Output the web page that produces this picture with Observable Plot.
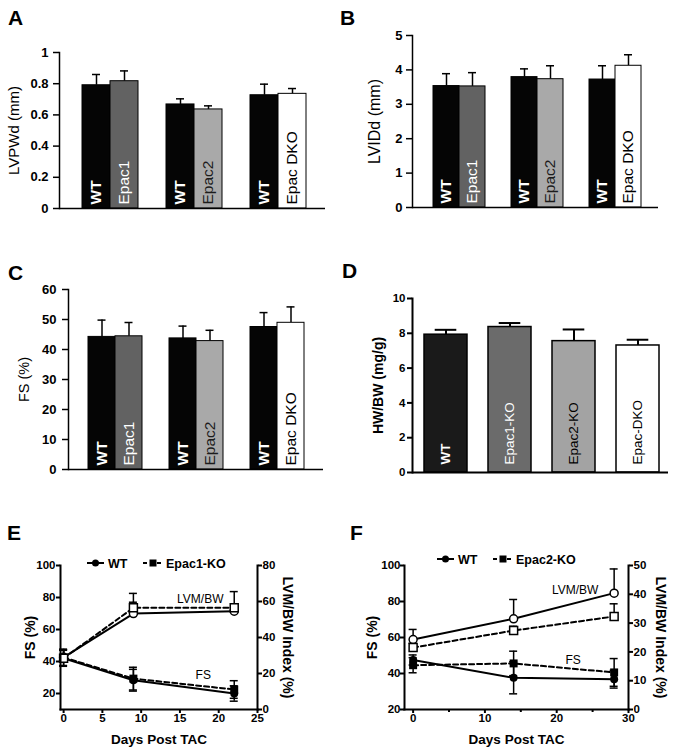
<!DOCTYPE html>
<html>
<head>
<meta charset="utf-8">
<script src="https://cdn.jsdelivr.net/npm/d3@7"></script>
<script src="https://cdn.jsdelivr.net/npm/@observablehq/plot@0.6"></script>
<style>
  html, body { margin: 0; padding: 0; background: #fff; }
  #fig { position: relative; width: 675px; height: 753px; overflow: hidden; background: #fff;
         font-family: "Liberation Sans", Arial, Helvetica, sans-serif; }
</style>
</head>
<body>
<div id="fig"></div>
<script>
// ---------------- DATA ----------------
// Panels A–C: paired WT / knockout bars
const abcGenotype = ["WT", "Epac1", "WT", "Epac2", "WT", "Epac DKO"];
const abcBarId    = ["WT-1", "Epac1", "WT-2", "Epac2", "WT-3", "Epac DKO"];
const abcSlots    = ["WT-1", "Epac1", "gap-1", "WT-2", "Epac2", "gap-2", "WT-3", "Epac DKO"];

const lvpwdMean = [0.79, 0.816, 0.667, 0.635, 0.726, 0.735];
const lvpwdSem  = [0.069, 0.066, 0.036, 0.023, 0.071, 0.034];

const lvidMean  = [3.53, 3.52, 3.79, 3.73, 3.72, 4.12];
const lvidSem   = [0.36, 0.40, 0.24, 0.39, 0.40, 0.32];

const fsMean    = [44.2, 44.4, 43.7, 42.8, 47.5, 48.9];
const fsSem     = [5.6, 4.6, 4.1, 3.6, 4.8, 5.3];

const abcTicksA = [0, 0.2, 0.4, 0.6, 0.8, 1];
const abcTicksB = [0, 1, 2, 3, 4, 5];
const abcTicksC = [0, 10, 20, 30, 40, 50, 60];

// Panel D
const dGenotype = ["WT", "Epac1-KO", "Epac2-KO", "Epac-DKO"];
const hwbwMean  = [7.92, 8.36, 7.55, 7.30];
const hwbwSem   = [0.28, 0.23, 0.67, 0.33];
const dTicks    = [0, 2, 4, 6, 8, 10];

// Panel E (Epac1-KO time course)
const eDays      = [0, 9, 22];
const eFsWT      = [42.0, 28.3, 20.0];
const eFsWTSem   = [5.0, 6.8, 4.8];
const eFsKO      = [42.5, 29.3, 22.5];
const eFsKOSem   = [5.0, 7.1, 5.5];
const eLvmWT     = [29.0, 53.3, 54.6];
const eLvmWTSem  = [4.5, 6.3, 2.0];
const eLvmKO     = [28.5, 56.5, 56.5];
const eLvmKOSem  = [4.5, 8.0, 9.0];
const eTicksX    = [0, 5, 10, 15, 20, 25];
const eTicksLeft = [20, 40, 60, 80, 100];
const eTicksRight= [0, 20, 40, 60, 80];

// Panel F (Epac2-KO time course)
const fDays      = [0, 14, 28];
const fFsWT      = [47.5, 37.6, 36.8];
const fFsWTSem   = [2.8, 8.9, 4.9];
const fFsKO      = [44.6, 45.6, 40.6];
const fFsKOSem   = [4.2, 6.8, 7.7];
const fLvmWT     = [24.3, 31.5, 40.4];
const fLvmWTSem  = [3.5, 6.7, 8.4];
const fLvmKO     = [21.5, 27.4, 32.3];
const fLvmKOSem  = [1.5, 1.5, 4.4];
const fTicksX    = [0, 10, 20, 30];
const fMinorX    = [5, 15, 25];
const fTicksLeft = [20, 40, 60, 80, 100];
const fTicksRight= [0, 10, 20, 30, 40, 50];

// ---------------- DRAWING ----------------
const FONT = '"Liberation Sans", Arial, Helvetica, sans-serif';
const fig = document.getElementById("fig");
function place(node, left, top) {
  node.style.position = "absolute";
  node.style.left = left + "px";
  node.style.top = top + "px";
  fig.appendChild(node);
}
const blank = () => "";

function barPanel(c) {
  const rows = c.ids.map((id, i) => ({ id, geno: c.geno[i], mean: c.mean[i], sem: c.sem[i] }));
  const labelMarks = c.fill.domain.map(g =>
    Plot.text(rows, {
      filter: d => d.geno === g, x: "id", y: 0, text: "geno",
      rotate: -90, textAnchor: "start", lineAnchor: "middle", dy: -c.labelLift,
      fill: c.ink[g], fontWeight: c.weight[g], fontSize: c.labelSize
    })
  );
  return Plot.plot({
    width: c.width, height: c.height,
    marginLeft: c.m[0], marginRight: c.m[1], marginTop: c.m[2], marginBottom: c.m[3],
    x: { type: "band", domain: c.domain, range: c.range, paddingInner: c.paddingInner, paddingOuter: 0, axis: null },
    y: { domain: c.yDomain },
    color: { type: "ordinal", domain: c.fill.domain, range: c.fill.range },
    style: { fontFamily: FONT, background: "transparent", color: "#000", overflow: "visible" },
    marks: [
      Plot.ruleX(rows, { x: "id", y1: "mean", y2: d => d.mean + d.sem, stroke: "#000", strokeWidth: c.errWidth }),
      Plot.tickY(rows, { x: "id", y: d => d.mean + d.sem, stroke: "#000", strokeWidth: c.errWidth,
                         insetLeft: c.capInset, insetRight: c.capInset }),
      Plot.barY(rows, { x: "id", y: "mean", fill: "geno", stroke: "#000", strokeWidth: c.barStroke, inset: 0 }),
      ...labelMarks,
      Plot.ruleY([0], { stroke: "#000", strokeWidth: c.axisWidth }),
      Plot.frame({ anchor: "left", stroke: "#000", strokeWidth: c.axisWidth }),
      Plot.axisY({ ticks: c.yTicks, tickFormat: blank, tickSize: c.tickSize, label: null, stroke: "#000", strokeWidth: c.axisWidth }),
      Plot.text(c.yTicks, { y: d => d, text: d3.format("~g"), frameAnchor: "left", textAnchor: "end", lineAnchor: "middle",
                            dx: c.tickDx, fontSize: c.tickFont, fontWeight: "bold", fill: "#000" }),
      Plot.text([c.yLabel], { text: d => d, frameAnchor: "left", textAnchor: "middle", lineAnchor: "middle",
                              rotate: -90, dx: c.yLabelDx,
                              fontSize: c.yLabelSize, fontWeight: c.yLabelWeight, fill: "#000" })
    ]
  });
}

const abcFill = { domain: ["WT", "Epac1", "Epac2", "Epac DKO"], range: ["#050505", "#626262", "#a9a9a9", "#ffffff"] };
const abcInk = { "WT": "#ffffff", "Epac1": "#ffffff", "Epac2": "#1c1c1c", "Epac DKO": "#000000" };
const abcWeight = { "WT": "bold", "Epac1": "normal", "Epac2": "normal", "Epac DKO": "normal" };
const abcCommon = {
  ids: abcBarId, geno: abcGenotype, domain: abcSlots, paddingInner: 0,
  fill: abcFill, ink: abcInk, weight: abcWeight,
  labelLift: 4, labelSize: 15.5, errWidth: 1.5, barStroke: 1, axisWidth: 1.5,
  tickSize: 6, tickDx: -11, tickFont: 13, yLabelWeight: "normal"
};

place(barPanel({ ...abcCommon, width: 335, height: 180, m: [59, 10, 12, 12], range: [82, 306],
  mean: lvpwdMean, sem: lvpwdSem, yDomain: [0, 1], yTicks: abcTicksA, capInset: 10,
  yLabel: "LVPWd (mm)", yLabelDx: -45, yLabelSize: 15 }), 0, 40);

place(barPanel({ ...abcCommon, width: 340, height: 200, m: [77, 17, 15, 13], range: [98, 306],
  mean: lvidMean, sem: lvidSem, yDomain: [0, 5], yTicks: abcTicksB, capInset: 9,
  yLabel: "LVIDd (mm)", yLabelDx: -38, yLabelSize: 16, tickDx: -10 }), 335, 20);

place(barPanel({ ...abcCommon, width: 335, height: 210, m: [68, 12, 19, 11], range: [87, 304],
  mean: fsMean, sem: fsSem, yDomain: [0, 60], yTicks: abcTicksC, capInset: 9.5,
  yLabel: "FS (%)", yLabelDx: -44, yLabelSize: 14.5, tickDx: -12 }), 0, 270);

place(barPanel({
  ids: dGenotype, geno: dGenotype, domain: dGenotype, paddingInner: 0.33,
  fill: { domain: dGenotype, range: ["#1a1a1a", "#6b6b6b", "#a3a3a3", "#ffffff"] },
  ink: { "WT": "#ffffff", "Epac1-KO": "#ffffff", "Epac2-KO": "#000000", "Epac-DKO": "#000000" },
  weight: { "WT": "bold", "Epac1-KO": "normal", "Epac2-KO": "normal", "Epac-DKO": "normal" },
  labelLift: 8, labelSize: 13.5, errWidth: 2, barStroke: 1.5, axisWidth: 2,
  tickSize: 5, tickDx: -7, tickFont: 11.5, capInset: 10.7,
  width: 340, height: 200, m: [77, 7, 18, 8], range: [87, 325],
  mean: hwbwMean, sem: hwbwSem, yDomain: [0, 10], yTicks: dTicks,
  yLabel: "HW/BW (mg/g)", yLabelDx: -34, yLabelSize: 14, yLabelWeight: "bold"
}), 335, 280);

function linePanel(c) {
  const toLeft = d3.scaleLinear().domain(c.rightDomain).range(c.yDomain);
  const rows = [];
  const add = (series, measure, vals, sems) => c.days.forEach((day, i) => {
    if (measure === "FS") rows.push({ day, series, measure, y: vals[i], lo: vals[i] - sems[i], hi: vals[i] + sems[i] });
    else rows.push({ day, series, measure, y: toLeft(vals[i]), lo: toLeft(vals[i]), hi: toLeft(vals[i] + sems[i]) });
  });
  add("WT", "FS", c.fsWT, c.fsWTSem);
  add("KO", "FS", c.fsKO, c.fsKOSem);
  add("WT", "LVM", c.lvmWT, c.lvmWTSem);
  add("KO", "LVM", c.lvmKO, c.lvmKOSem);
  const last = c.days[c.days.length - 1];
  const is = (s, m) => d => d.series === s && d.measure === m;
  const axisOpts = { tickSize: 4, tickFormat: blank, label: null, stroke: "#000", strokeWidth: 2 };
  const tickText = { fontSize: 11.5, fontWeight: "bold", fill: "#000" };
  const marks = [
    Plot.line(rows, { filter: d => d.series === "WT", x: "day", y: "y", z: "measure", stroke: "#000", strokeWidth: 2 }),
    Plot.line(rows, { filter: d => d.series === "KO", x: "day", y: "y", z: "measure", stroke: "#000", strokeWidth: 2, strokeDasharray: "5,3" }),
    Plot.ruleX(rows, { x: "day", y1: "lo", y2: "hi", stroke: "#000", strokeWidth: 1.5 }),
    Plot.ruleY(rows, { x1: "day", x2: "day", y: "hi", insetLeft: -4, insetRight: -4, stroke: "#000", strokeWidth: 1.5 }),
    Plot.ruleY(rows, { filter: d => d.lo !== d.y, x1: "day", x2: "day", y: "lo", insetLeft: -4, insetRight: -4, stroke: "#000", strokeWidth: 1.5 }),
    Plot.dot(rows, { filter: is("WT", "FS"), x: "day", y: "y", symbol: "circle", r: 4, fill: "#000" }),
    Plot.dot(rows, { filter: is("KO", "FS"), x: "day", y: "y", symbol: "square", r: 4.5, fill: "#000" }),
    Plot.dot(rows, { filter: is("WT", "LVM"), x: "day", y: "y", symbol: "circle", r: 4, fill: "#fff", stroke: "#000", strokeWidth: 1.5 }),
    Plot.dot(rows, { filter: is("KO", "LVM"), x: "day", y: "y", symbol: "square", r: 4.5, fill: "#fff", stroke: "#000", strokeWidth: 1.5 }),
    Plot.text(rows, { filter: d => d.day === last && is(c.lvmTag[0], "LVM")(d), x: "day", y: "y", text: () => "LVM/BW",
                      dx: c.lvmTag[1], dy: c.lvmTag[2], fontSize: 12, fill: "#000" }),
    Plot.text(rows, { filter: d => d.day === last && is(c.fsTag[0], "FS")(d), x: "day", y: "y", text: () => "FS",
                      dx: c.fsTag[1], dy: c.fsTag[2], fontSize: 12, fill: "#000" }),
    Plot.frame({ anchor: "left", stroke: "#000", strokeWidth: 2 }),
    Plot.frame({ anchor: "right", stroke: "#000", strokeWidth: 2 }),
    Plot.frame({ anchor: "bottom", stroke: "#000", strokeWidth: 2 }),
    Plot.axisY({ ...axisOpts, anchor: "left", ticks: c.leftTicks }),
    Plot.axisY({ ...axisOpts, anchor: "right", ticks: c.rightTicks.map(toLeft) }),
    Plot.axisX({ ...axisOpts, ticks: c.xTicks }),
    Plot.text(c.leftTicks, { ...tickText, y: d => d, text: d => String(d), frameAnchor: "left", textAnchor: "end", lineAnchor: "middle", dx: c.leftTickDx }),
    Plot.text(c.rightTicks, { ...tickText, y: d => toLeft(d), text: d => String(d), frameAnchor: "right", textAnchor: "start", lineAnchor: "middle", dx: 5 }),
    Plot.text(c.xTicks, { ...tickText, x: d => d, text: d => String(d), frameAnchor: "bottom", textAnchor: "middle", lineAnchor: "top", dy: 4 }),
    Plot.text(["FS (%)"], { text: d => d, frameAnchor: "left", textAnchor: "middle", lineAnchor: "middle",
                            rotate: -90, dx: c.leftLabelDx, fontSize: 14, fontWeight: "bold", fill: "#000" }),
    Plot.text(["LVM/BW Index (%)"], { text: d => d, frameAnchor: "right", textAnchor: "middle", lineAnchor: "middle",
                                      rotate: 90, dx: c.rightLabelDx, fontSize: 14, fontWeight: "bold", fill: "#000" }),
    Plot.text(["Days Post TAC"], { text: d => d, frameAnchor: "bottom", textAnchor: "middle", lineAnchor: "middle",
                                   dy: 30, fontSize: 13.5, fontWeight: "bold", fill: "#000" })
  ];
  if (c.minorX) marks.push(Plot.axisX({ ...axisOpts, ticks: c.minorX, tickSize: 3 }));
  return Plot.plot({
    width: c.width, height: c.height,
    marginLeft: c.m[0], marginRight: c.m[1], marginTop: c.m[2], marginBottom: c.m[3],
    x: { domain: c.xDomain },
    y: { domain: c.yDomain },
    style: { fontFamily: FONT, background: "transparent", color: "#000", overflow: "visible" },
    marks
  });
}

place(linePanel({
  width: 335, height: 213, m: [60, 78, 25, 44],
  days: eDays, xDomain: [-0.4, 25], yDomain: [10, 100], rightDomain: [0, 80],
  fsWT: eFsWT, fsWTSem: eFsWTSem, fsKO: eFsKO, fsKOSem: eFsKOSem,
  lvmWT: eLvmWT, lvmWTSem: eLvmWTSem, lvmKO: eLvmKO, lvmKOSem: eLvmKOSem,
  leftTicks: eTicksLeft, rightTicks: eTicksRight, xTicks: eTicksX,
  lvmTag: ["KO", -34, -9], fsTag: ["KO", -31, -14],
  leftLabelDx: -30, rightLabelDx: 30, leftTickDx: -5
}), 0, 540);

place(linePanel({
  width: 340, height: 213, m: [69, 47, 25, 44],
  days: fDays, xDomain: [-1.2, 30], yDomain: [20, 100], rightDomain: [0, 50],
  fsWT: fFsWT, fsWTSem: fFsWTSem, fsKO: fFsKO, fsKOSem: fFsKOSem,
  lvmWT: fLvmWT, lvmWTSem: fLvmWTSem, lvmKO: fLvmKO, lvmKOSem: fLvmKOSem,
  leftTicks: fTicksLeft, rightTicks: fTicksRight, xTicks: fTicksX, minorX: fMinorX,
  lvmTag: ["WT", -39, -3], fsTag: ["KO", -41, -12],
  leftLabelDx: -32, rightLabelDx: 32, leftTickDx: -4
}), 335, 540);

// ---------------- PANEL LETTERS & LEGENDS ----------------
const NS = "http://www.w3.org/2000/svg";
const overlay = document.createElementNS(NS, "svg");
overlay.setAttribute("width", 675);
overlay.setAttribute("height", 753);
overlay.style.pointerEvents = "none";
overlay.style.fontFamily = FONT;
function el(tag, attrs, text) {
  const e = document.createElementNS(NS, tag);
  for (const k in attrs) e.setAttribute(k, attrs[k]);
  if (text != null) e.textContent = text;
  overlay.appendChild(e);
  return e;
}
const letters = [["A", 8, 25], ["B", 340, 25], ["C", 8, 280], ["D", 342, 278], ["E", 7, 540], ["F", 350, 540]];
letters.forEach(([t, x, y]) => el("text", { x, y, "font-size": 21, "font-weight": "bold", fill: "#000" }, t));

function legend(y, x0, koName) {
  el("line", { x1: x0, x2: x0 + 17, y1: y, y2: y, stroke: "#000", "stroke-width": 2 });
  el("circle", { cx: x0 + 8.5, cy: y, r: 3.5, fill: "#000" });
  el("text", { x: x0 + 21, y: y + 4.5, "font-size": 12.5, "font-weight": "bold", fill: "#000" }, "WT");
  const x1 = x0 + 56;
  el("line", { x1: x1, x2: x1 + 19, y1: y, y2: y, stroke: "#000", "stroke-width": 2, "stroke-dasharray": "4,3" });
  el("rect", { x: x1 + 6.5, y: y - 3.5, width: 7, height: 7, fill: "#000" });
  el("text", { x: x1 + 23, y: y + 4.5, "font-size": 12.5, "font-weight": "bold", fill: "#000" }, koName);
}
legend(563, 87, "Epac1-KO");
legend(559, 437, "Epac2-KO");
place(overlay, 0, 0);
</script>
</body>
</html>
